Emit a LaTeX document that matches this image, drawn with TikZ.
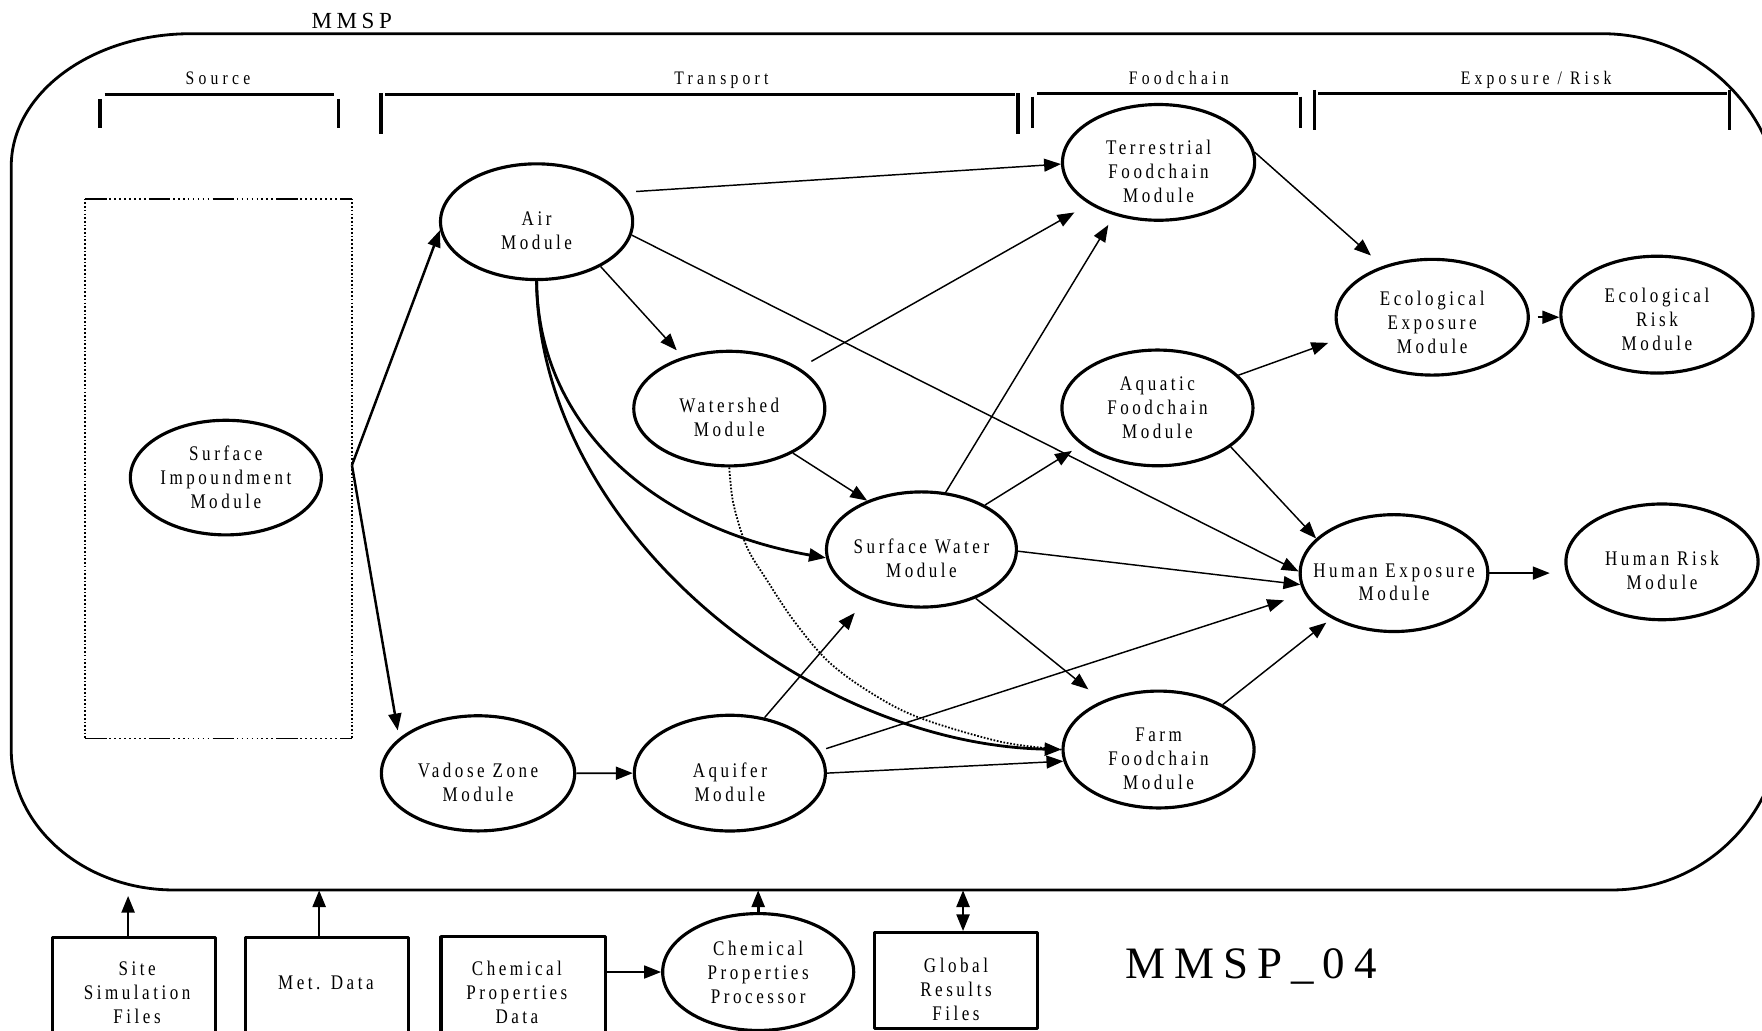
\documentclass[tikz,border=0pt]{standalone}
\usepackage{fontspec}
\setmainfont{Liberation Serif}
\newfontfamily\labfont[LetterSpace=17,FakeStretch=0.82]{Liberation Serif}
\newfontfamily\hdrfont[LetterSpace=22,FakeStretch=0.82]{Liberation Serif}
\newfontfamily\bigfont[LetterSpace=20]{Liberation Serif}
\usetikzlibrary{shapes.geometric,arrows.meta,calc}
\newcommand\dnA{\rule{0pt}{28.5pt}}
\newcommand\dnB{\rule{0pt}{22pt}}
\begin{document}
\begin{tikzpicture}[x=1pt,y=-1pt,line join=round,
  mod/.style={ellipse,draw,line width=2.8pt,inner xsep=-45pt,inner ysep=0pt,
    minimum width=171pt,minimum height=103pt,align=center,
    font=\labfont\fontsize{18.5}{21.3}\selectfont},
  box/.style={rectangle,draw,line width=2.8pt,inner sep=0pt,align=center,
    font=\labfont\fontsize{18.5}{21.3}\selectfont},
  txt/.style={inner sep=0pt,align=center,font=\labfont\fontsize{18.5}{21.3}\selectfont},
  hdr/.style={inner sep=0pt,anchor=base,font=\hdrfont\fontsize{17}{20}\selectfont},
  brk/.style={line width=2.9pt},
  tip/.tip={Triangle[length=15pt,width=11.5pt]},
  arr/.style={line width=1.3pt,-tip},
  tarr/.style={line width=2.5pt,-tip},
  dashdots/.style={line width=1.7pt,dash pattern=on 19pt off 2.5pt on 1.4pt off 3pt on 1.4pt off 3pt on 1.4pt off 3pt on 1.4pt off 3pt on 1.4pt off 3pt on 1.4pt off 3pt on 1.4pt off 3pt on 1.4pt off 3pt},
  dots/.style={line width=1.7pt,dash pattern=on 1.5pt off 1.8pt}
]
\useasboundingbox (0,0) rectangle (1568,917);

% outer MMSP frame
\node[draw=none,minimum width=1575pt,minimum height=762pt,inner sep=0pt] (frame) at (797.5,411) {};
\draw[line width=2.5pt] (170,30) -- (1426,30)
  arc[start angle=270,end angle=360,radius=159] -- (1585,641)
  arc[start angle=0,end angle=90,radius=151] -- (155,792)
  arc[start angle=90,end angle=180,x radius=145,y radius=125] -- (10,148)
  arc[start angle=180,end angle=270,x radius=160,y radius=118] -- cycle;
\node[inner sep=0pt,anchor=base,font=\bigfont\fontsize{20.5}{24}\selectfont] (mmsp) at (313,25.8) {MMSP};

% section headers
\node[hdr] (hsrc) at (194,75) {Source};
\node[hdr] (htra) at (642,75) {Transport};
\node[hdr] (hfood) at (1049,75) {Foodchain};
\node[hdr] (hexr) at (1367,75) {Exposure / Risk};
\draw[brk] (93,84) -- (297,84) (89,88) -- (89,114) (301,88) -- (301,114);
\draw[brk] (343,84) -- (903,84) (339,83) -- (339,119) (906,83) -- (906,119);
\draw[brk] (923,83) -- (1155,83) (919,86) -- (919,114) (1157,86) -- (1157,114);
\draw[brk] (1173,83) -- (1537,83) (1170,80) -- (1170,116) (1539,80) -- (1539,116);

% source box
\node[draw=none,minimum width=237pt,minimum height=480pt,inner sep=0pt] (srcbox) at (194.5,417) {};
\draw[dashdots] (srcbox.north west) -- (srcbox.north east);
\draw[dashdots] (srcbox.south west) -- (srcbox.south east);
\draw[dots] (srcbox.north west) -- (srcbox.south west);
\draw[dots] (srcbox.north east) -- (srcbox.south east);

% modules
\node[mod,minimum width=170pt,minimum height=102pt] (sim) at (201,425) {Surface\\Impoundment\\Module};
\node[mod] (air) at (477.5,197.3) {\dnA Air\\Module};
\node[mod,minimum width=170pt,minimum height=102pt] (wat) at (649,363.6) {\dnA Watershed\\Module};
\node[mod,minimum width=169pt,minimum height=102.5pt] (sw) at (820,489) {\dnA Surface Water\\Module};
\node[mod,minimum width=172pt,minimum height=102.5pt] (vad) at (425.4,688.2) {\dnA Vadose Zone\\Module};
\node[mod,minimum width=170pt] (aqu) at (649.5,688) {\dnA Aquifer\\Module};
\node[mod] (ter) at (1031,144.5) {\dnA Terrestrial\\Foodchain\\Module};
\node[mod,minimum width=170pt] (aqf) at (1030,363) {Aquatic\\Foodchain\\Module};
\node[mod,minimum width=170pt,minimum height=104pt] (farm) at (1031,667) {\dnA Farm\\Foodchain\\Module};
\node[mod] (eexp) at (1274.5,282.3) {\dnB Ecological\\Exposure\\Module};
\node[mod,minimum height=104pt] (erisk) at (1474.5,280) {\dnB Ecological\\Risk\\Module};
\node[mod,minimum width=167pt,minimum height=104pt] (hexp) at (1240.5,510) {\dnA Human Exposure\\Module};
\node[mod] (hrisk) at (1479,500) {\dnA Human Risk\\Module};
\node[mod,minimum width=170pt,minimum height=104pt] (cpp) at (674.7,865) {Chemical\\Properties\\Processor};

% input boxes
\node[box,minimum width=144.4pt,minimum height=111pt] (site) at (119.2,890) {};
\node[txt] (sitet) at (122,883.6) {Site\\Simulation\\Files};
\node[box,minimum width=145pt,minimum height=111pt] (met) at (291,890) {};
\node[txt] (mett) at (290,874.5) {Met. Data};
\node[box,minimum width=146pt,minimum height=113pt] (cdata) at (465.5,890) {};
\node[txt] (cdatat) at (460,883.3) {Chemical\\Properties\\Data};
\node[box,minimum width=145.5pt,minimum height=85pt] (glob) at (850.7,872.5) {\dnA Global\\Results\\Files};
\node[inner sep=0pt,anchor=base,font=\bigfont\fontsize{40}{48}\selectfont] (title) at (1113.5,870.4) {MMSP\_04};

% connectors from source
\coordinate (srcout) at ([yshift=3pt]srcbox.east);
\draw[line width=2.2pt,-tip] (srcout) -- (air.185);
\draw[line width=2.2pt,-tip,shorten >=7pt] (srcout) -- (vad.156);

% air module
\draw[arr,shorten <=13pt] (air.19) -- (ter.181);
\draw[arr] (air.-8) -- (hexp.179);
\draw[arr,shorten >=8pt] (air.-35) -- (wat.132);
\draw[tarr] (air.south) .. controls ($(air.south)+(1.5,131)$) and ($(sw.185)+(-150,-26)$) .. (sw.185);
\draw[tarr] (air.south) .. controls ($(air.south)+(2.5,221)$) and ($(farm.west)+(-226,-5)$) .. (farm.west);

% watershed
\draw[arr,shorten <=12pt,shorten >=15pt] (wat.30) -- (ter.211);
\draw[arr] (wat.-35) -- (sw.138);
\draw[line width=1.6pt,dash pattern=on 1.5pt off 1.5pt] plot[smooth,tension=0.55] coordinates {(wat.south) (652.6,448) (664.5,486.5) (682.3,516) (706,551.8) (735.7,587.3) (771,614) (815.8,637.8) (890,660) (farm.west)};

% surface water
\draw[arr,shorten >=10pt] (sw.67) -- (ter.230);
\draw[arr,shorten >=10pt] (sw.35) -- (aqf.206);
\draw[arr] (sw.-1) -- (hexp.187);
\draw[arr,shorten >=16pt] (sw.-42) -- (farm.139);

% aquifer / vadose
\draw[arr,shorten >=17pt] (aqu.58) -- (sw.222);
\draw[arr,shorten <=6pt,shorten >=19pt] (aqu.14) -- (hexp.193);
\draw[arr] (aqu.east) -- (farm.187);
\draw[arr,line width=1.6pt] (vad.east) -- (aqu.west);

% foodchains
\draw[arr,shorten >=14pt] (ter.6) -- (eexp.134);
\draw[arr,shorten >=12pt] (aqf.22) -- (eexp.193);
\draw[arr] (aqf.-28) -- (hexp.156);
\draw[arr,shorten >=6pt] (farm.35) -- (hexp.216);

% exposure / risk
\draw[arr,line width=1.6pt,shorten <=7pt] (eexp.east) -- (eexp.east -| erisk.west);
\draw[arr,line width=1.6pt,shorten >=13pt] (hexp.east) -- (hexp.east -| hrisk.west);

% bottom inputs
\draw[arr,line width=1.6pt] (cpp.west -| cdata.east) -- (cpp.west);
\coordinate (sitea) at ([xshift=-5.2pt]site.north);
\coordinate (meta) at ([xshift=-7pt]met.north);
\coordinate (globa) at ([xshift=6.3pt]glob.north);
\draw[line width=2.4pt,-tip,shorten >=5pt] (sitea) -- (sitea |- frame.south);
\draw[line width=2.4pt,-tip] (meta) -- (meta |- frame.south);
\draw[line width=2.4pt,-tip] (cpp.north) -- (cpp.north |- frame.south);
\draw[line width=2.4pt,tip-tip] (globa) -- (globa |- frame.south);
\end{tikzpicture}
\end{document}
